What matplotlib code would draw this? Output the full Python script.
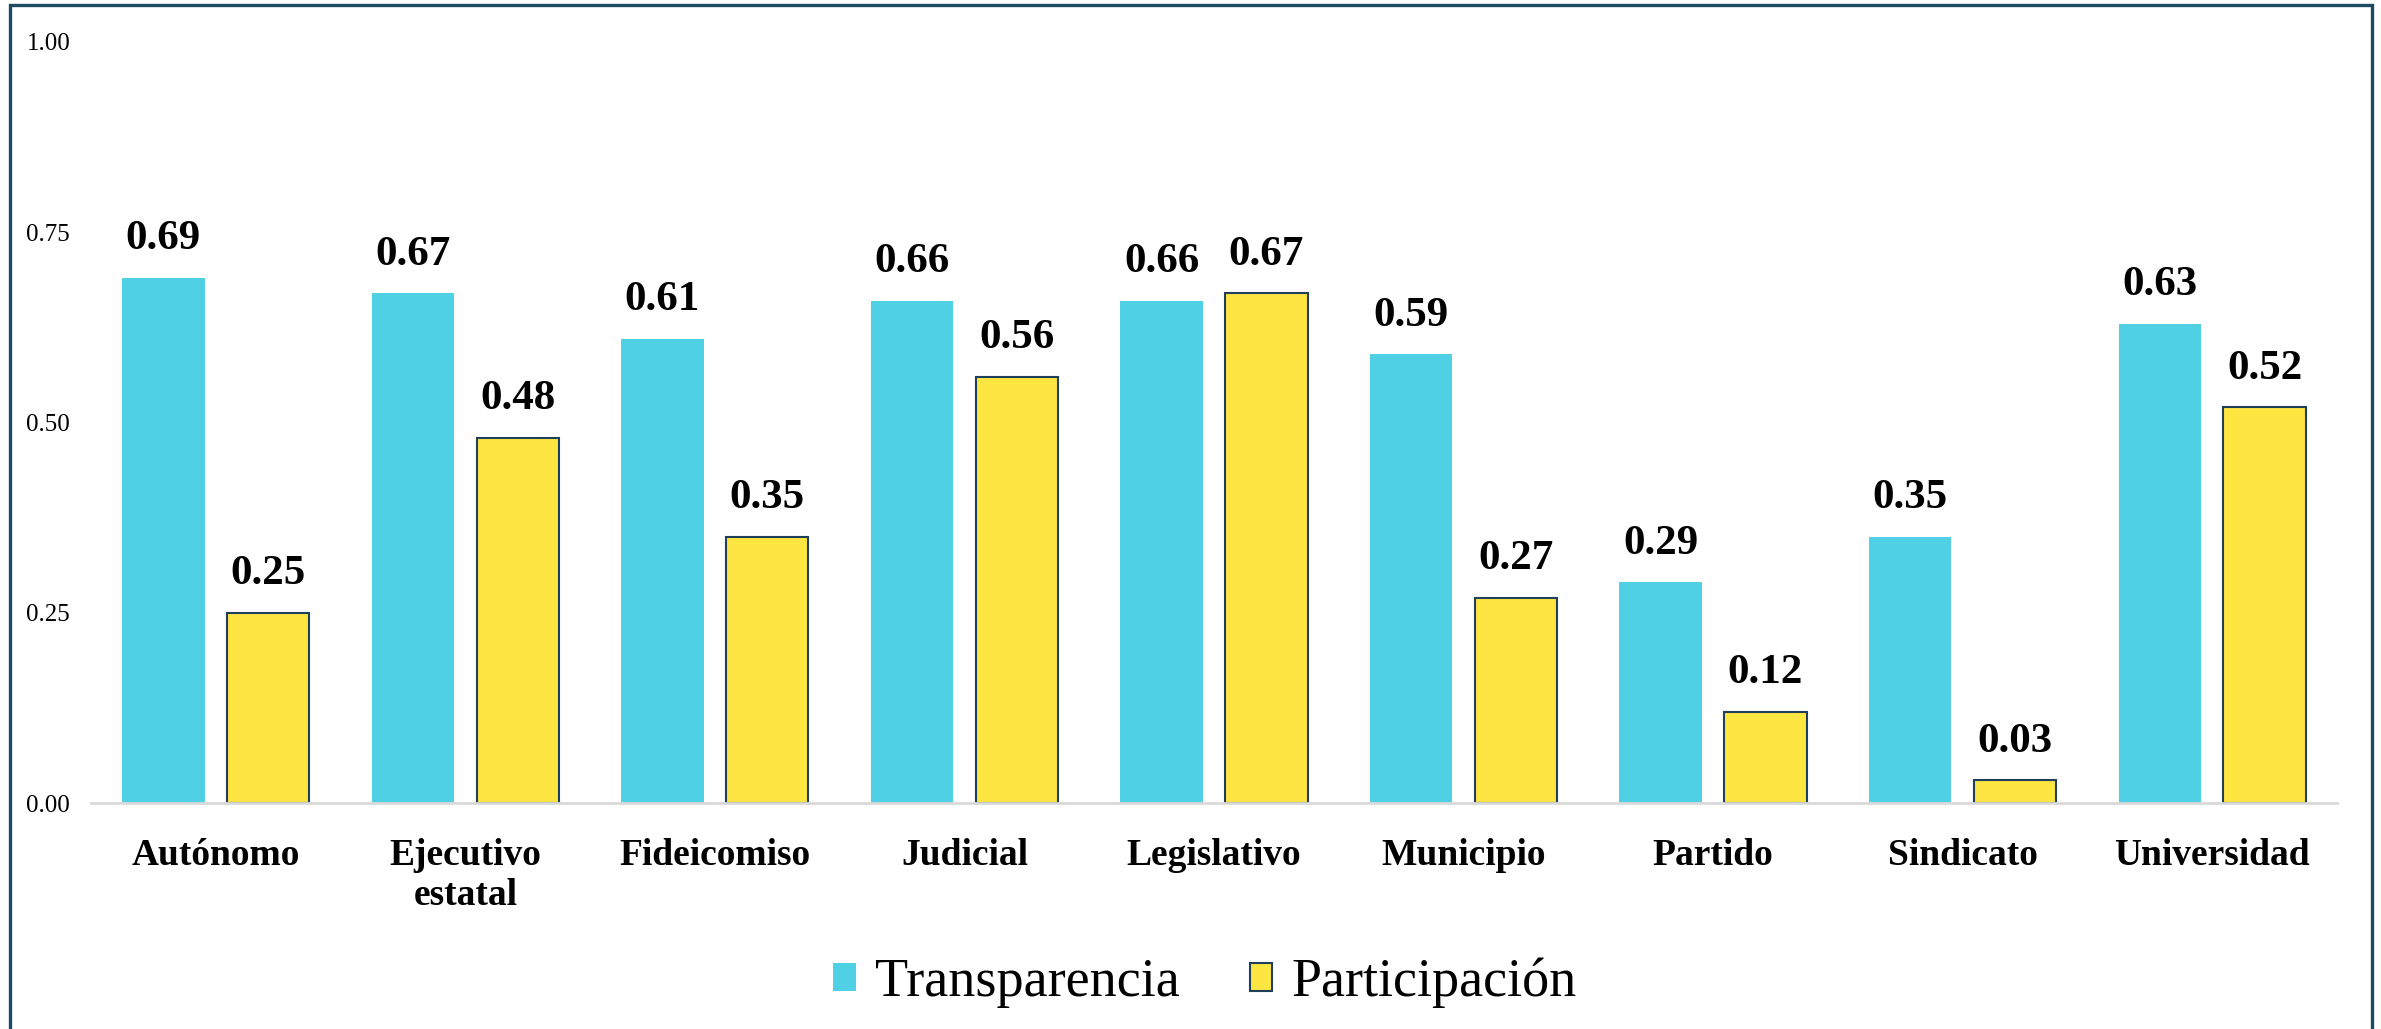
import matplotlib
matplotlib.use("Agg")
import matplotlib.pyplot as plt
import numpy as np
from matplotlib.patches import Rectangle

categories = ["Autónomo", "Ejecutivo\nestatal", "Fideicomiso", "Judicial", "Legislativo",
              "Municipio", "Partido", "Sindicato", "Universidad"]
transparencia = [0.69, 0.67, 0.61, 0.66, 0.66, 0.59, 0.29, 0.35, 0.63]
participacion = [0.25, 0.48, 0.35, 0.56, 0.67, 0.27, 0.12, 0.03, 0.52]
yticks = [0.00, 0.25, 0.50, 0.75, 1.00]

plt.rcParams['font.family'] = ['Liberation Serif', 'DejaVu Serif']

fig = plt.figure(figsize=(23.81, 10.29), dpi=100)
ax = fig.add_axes([0.0382, 0.2196, 0.9433, 0.7396])

x = np.arange(len(categories))
w = 0.33
off = 0.21
cyan = "#50D0E4"
yellow = "#FDE642"
edge = "#1F3F5A"

b1 = ax.bar(x - off, transparencia, w, color=cyan, label="Transparencia")
b2 = ax.bar(x + off, participacion, w, color=yellow, edgecolor=edge, linewidth=1.5,
            label="Participación")

for bars, vals in ((b1, transparencia), (b2, participacion)):
    for r, v in zip(bars, vals):
        ax.annotate(f"{v:.2f}", (r.get_x() + r.get_width() / 2, v),
                    xytext=(0, 14), textcoords="offset points",
                    ha="center", va="bottom", fontsize=31, fontweight="bold")

ax.set_xlim(-0.5, len(categories) - 0.5)
ax.set_ylim(0, 1.0)
ax.set_yticks(yticks)
ax.set_yticklabels([f"{t:.2f}" for t in yticks], fontsize=18)
ax.set_xticks(x)
ax.set_xticklabels(categories, fontsize=27, fontweight="bold", linespacing=1.2)
ax.tick_params(axis="y", length=0, pad=15)
ax.tick_params(axis="x", length=0, pad=25)
for s in ("top", "right", "left"):
    ax.spines[s].set_visible(False)
ax.spines["bottom"].set_color("#D9D9D9")
ax.spines["bottom"].set_linewidth(2)

leg = fig.legend(handles=[b1, b2], loc="center", bbox_to_anchor=(0.506, 0.045),
                 ncol=2, frameon=False, fontsize=39, handlelength=0.42, handleheight=0.42,
                 handletextpad=0.35, columnspacing=1.3)

fig.patches.append(Rectangle((10 / 2381, -0.1), (2372 - 10) / 2381, 1 - 5 / 1029 + 0.1,
                             transform=fig.transFigure, fill=False, edgecolor="#1F4A63",
                             linewidth=2.4, zorder=10))

fig.savefig("out.png", dpi=100)
